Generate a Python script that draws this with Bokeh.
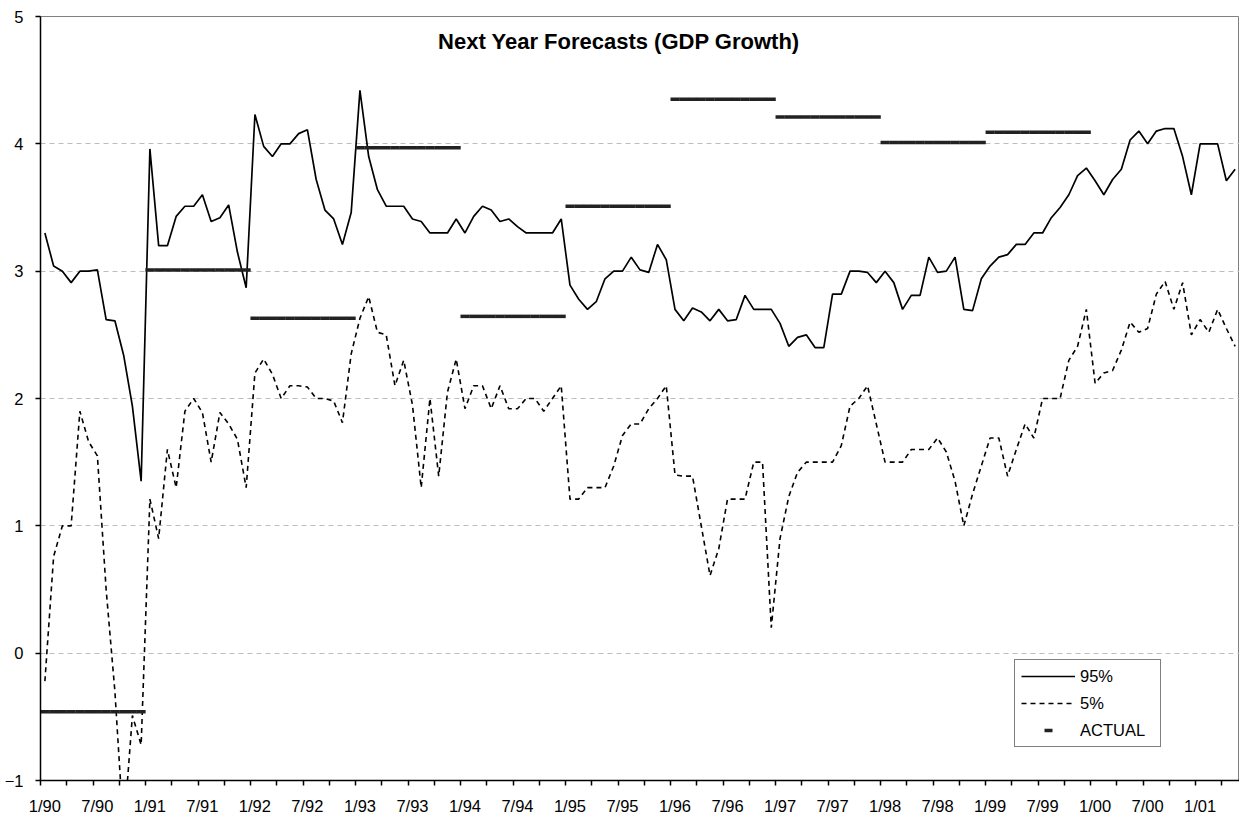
from bokeh.plotting import figure
from bokeh.models import Range1d, FixedTicker, Legend, LegendItem, Label, ColumnDataSource
from bokeh.embed import file_html
from bokeh.resources import INLINE

TITLE = "Next Year Forecasts (GDP Growth)"

# month index 0 = 1/90 ... 136 = 5/01
tick_labels = ["1/90", "7/90", "1/91", "7/91", "1/92", "7/92", "1/93", "7/93",
               "1/94", "7/94", "1/95", "7/95", "1/96", "7/96", "1/97", "7/97",
               "1/98", "7/98", "1/99", "7/99", "1/00", "7/00", "1/01"]

p95 = [
    3.30, 3.04, 3.00, 2.91, 3.00, 3.00, 3.01, 2.62, 2.61, 2.34,
    1.94, 1.35, 3.96, 3.20, 3.20, 3.43, 3.51, 3.51, 3.60, 3.39,
    3.42, 3.52, 3.15, 2.87, 4.23, 3.98, 3.90, 4.00, 4.00, 4.08,
    4.11, 3.72, 3.48, 3.41, 3.21, 3.46, 4.42, 3.90, 3.64, 3.51,
    3.51, 3.51, 3.41, 3.39, 3.30, 3.30, 3.30, 3.41, 3.30, 3.43,
    3.51, 3.48, 3.39, 3.41, 3.35, 3.30, 3.30, 3.30, 3.30, 3.41,
    2.89, 2.78, 2.70, 2.76, 2.94, 3.00, 3.00, 3.11, 3.01, 2.99,
    3.21, 3.09, 2.70, 2.61, 2.71, 2.68, 2.61, 2.70, 2.61, 2.62,
    2.81, 2.70, 2.70, 2.70, 2.59, 2.41, 2.48, 2.50, 2.40, 2.40,
    2.82, 2.82, 3.00, 3.00, 2.99, 2.91, 3.00, 2.91, 2.70, 2.81,
    2.81, 3.11, 2.99, 3.00, 3.11, 2.70, 2.69, 2.94, 3.04, 3.11,
    3.13, 3.21, 3.21, 3.30, 3.30, 3.42, 3.50, 3.60, 3.75, 3.81,
    3.71, 3.60, 3.72, 3.80, 4.03, 4.10, 4.00, 4.10, 4.12, 4.12,
    3.90, 3.60, 4.00, 4.00, 4.00, 3.71, 3.80]

p5 = [
    -0.22, 0.76, 1.00, 1.00, 1.90, 1.66, 1.55, 0.50, -0.30, -1.40,
    -0.49, -0.72, 1.21, 0.90, 1.60, 1.30, 1.90, 2.00, 1.89, 1.50,
    1.89, 1.80, 1.68, 1.30, 2.20, 2.31, 2.19, 2.00, 2.10, 2.10,
    2.09, 2.00, 2.00, 1.98, 1.81, 2.35, 2.63, 2.80, 2.52, 2.50,
    2.10, 2.30, 1.95, 1.30, 2.00, 1.39, 2.05, 2.31, 1.92, 2.10,
    2.10, 1.92, 2.10, 1.92, 1.92, 2.00, 2.00, 1.90, 2.00, 2.10,
    1.21, 1.21, 1.30, 1.30, 1.30, 1.47, 1.71, 1.80, 1.80, 1.92,
    2.00, 2.10, 1.40, 1.39, 1.39, 1.00, 0.61, 0.82, 1.21, 1.21,
    1.21, 1.50, 1.50, 0.20, 0.90, 1.23, 1.42, 1.50, 1.50, 1.50,
    1.50, 1.63, 1.94, 2.00, 2.10, 1.80, 1.50, 1.50, 1.50, 1.60,
    1.60, 1.60, 1.69, 1.58, 1.35, 1.00, 1.25, 1.47, 1.69, 1.69,
    1.39, 1.60, 1.80, 1.69, 2.00, 2.00, 2.00, 2.30, 2.41, 2.70,
    2.12, 2.20, 2.22, 2.38, 2.60, 2.52, 2.55, 2.82, 2.92, 2.70,
    2.91, 2.50, 2.62, 2.52, 2.70, 2.55, 2.41]

# annual actual GDP growth, shown on each month of the year forecast
actual_years = [1990, 1991, 1992, 1993, 1994, 1995, 1996, 1997, 1998, 1999]
actual_values = [-0.46, 3.01, 2.63, 3.97, 2.645, 3.51, 4.35, 4.21, 4.01, 4.09]

n = len(p95)
months = list(range(n))
actual = [float("nan")] * n
for yr, v in zip(actual_years, actual_values):
    start = (yr - 1990) * 12
    for m in range(start, start + 12):
        actual[m] = v

src = ColumnDataSource(dict(x=months, p95=p95, p5=p5, actual=actual))

FONT = "Liberation Sans"

p = figure(width=1239, height=817, x_range=Range1d(-0.5, n - 0.5), y_range=Range1d(-1, 5),
           output_backend="svg", toolbar_location=None,
           min_border_left=40, min_border_right=0, min_border_top=16, min_border_bottom=35,
           background_fill_color="white", border_fill_color="white")
p.outline_line_color = "#808080"
p.outline_line_width = 1

p.xgrid.visible = False
p.ygrid.ticker = FixedTicker(ticks=[0, 1, 2, 3, 4])
p.ygrid.grid_line_color = "#bdbdbd"
p.ygrid.grid_line_dash = "5 4"
p.ygrid.grid_line_width = 1

label_ticks = list(range(0, n, 6))[:len(tick_labels)]
p.xaxis.ticker = FixedTicker(ticks=label_ticks, minor_ticks=[-0.5 + 3 * k for k in range(46)])
p.xaxis.major_label_overrides = {t: lab for t, lab in zip(label_ticks, tick_labels)}
p.xaxis.major_tick_out = 0
p.xaxis.major_tick_in = 0
p.xaxis.minor_tick_out = 5
p.xaxis.minor_tick_in = 0
p.xaxis.minor_tick_line_color = "black"
p.xaxis.minor_tick_line_width = 1.5
p.xaxis.major_label_standoff = 11

p.yaxis.ticker = FixedTicker(ticks=[-1, 0, 1, 2, 3, 4, 5])
p.yaxis.major_tick_out = 5
p.yaxis.major_tick_in = 0
p.yaxis.minor_tick_out = 0
p.yaxis.major_tick_line_width = 1.5
p.yaxis.major_label_standoff = 12

for ax in (p.xaxis, p.yaxis):
    ax.axis_line_color = "black"
    ax.axis_line_width = 1.5
    ax.major_tick_line_color = "black"
    ax.major_label_text_font = FONT
    ax.major_label_text_font_size = "16.5px"
    ax.major_label_text_color = "black"

r95 = p.line("x", "p95", source=src, line_color="black", line_width=1.7)
r5 = p.line("x", "p5", source=src, line_color="black", line_width=1.6, line_dash="5 4")
ra = p.scatter("x", "actual", source=src, marker="dash", size=9, line_width=3.5,
               line_color="#222222")

title = Label(x=65.6, y=4.806, text=TITLE, text_font=FONT, text_font_size="22px",
              text_font_style="bold", text_align="center", text_baseline="middle",
              text_color="black")
p.add_layout(title)

legend = Legend(items=[LegendItem(label="95%", renderers=[r95]),
                       LegendItem(label="5%", renderers=[r5]),
                       LegendItem(label="ACTUAL", renderers=[ra])],
                location=(974, 33), orientation="vertical",
                glyph_width=54, glyph_height=20, label_height=20, label_width=74,
                spacing=7, padding=6, margin=0, label_standoff=5,
                label_text_font=FONT, label_text_font_size="16.5px",
                label_text_color="black",
                border_line_color="black", border_line_width=1.5,
                background_fill_color="white", background_fill_alpha=1.0)
p.add_layout(legend, "center")

open("out.html", "w").write(file_html(p, INLINE))
